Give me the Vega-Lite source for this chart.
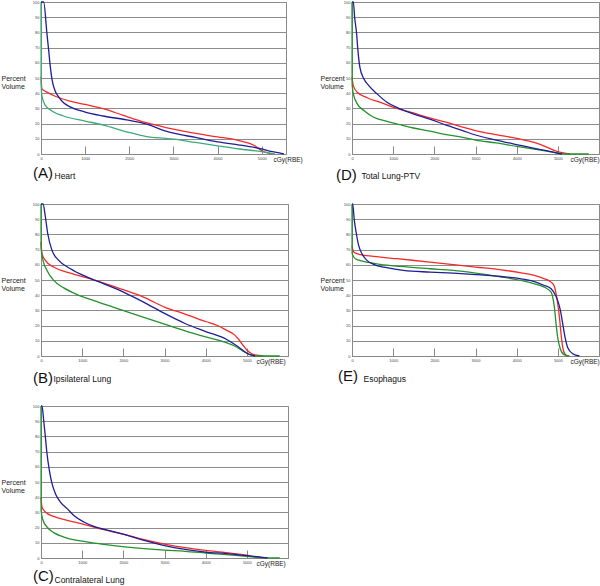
{
  "$schema": "https://vega.github.io/schema/vega-lite/v6.json",
  "padding": {"left": 0, "top": -2, "right": 0, "bottom": 0},
  "columns": 2,
  "spacing": {"row": 50, "column": 64},
  "bounds": "flush",
  "resolve": {"scale": {"color": "independent"}},
  "datasets": {
    "heart": [
      {"series": "red", "dose": 0, "volume": 51}, {"series": "red", "dose": 22, "volume": 42.8}, {"series": "red", "dose": 135, "volume": 40.7}, {"series": "red", "dose": 323, "volume": 38}, {"series": "red", "dose": 660, "volume": 34.8}, {"series": "red", "dose": 1000, "volume": 32.6}, {"series": "red", "dose": 1413, "volume": 29.8}, {"series": "red", "dose": 1865, "volume": 25.4}, {"series": "red", "dose": 2390, "volume": 20.6}, {"series": "red", "dose": 2830, "volume": 17.4}, {"series": "red", "dose": 3000, "volume": 16.3}, {"series": "red", "dose": 3500, "volume": 13.5}, {"series": "red", "dose": 4000, "volume": 11.3}, {"series": "red", "dose": 4500, "volume": 8.7}, {"series": "red", "dose": 4800, "volume": 6.1}, {"series": "red", "dose": 4900, "volume": 4.3}, {"series": "red", "dose": 5000, "volume": 2.2}, {"series": "red", "dose": 5100, "volume": 1.1}, {"series": "red", "dose": 5250, "volume": 0},
      {"series": "green", "dose": 0, "volume": 100}, {"series": "green", "dose": 3, "volume": 46}, {"series": "green", "dose": 22, "volume": 38}, {"series": "green", "dose": 98, "volume": 32}, {"series": "green", "dose": 248, "volume": 28.3}, {"series": "green", "dose": 511, "volume": 25}, {"series": "green", "dose": 1000, "volume": 21.7}, {"series": "green", "dose": 1413, "volume": 19}, {"series": "green", "dose": 1940, "volume": 14.6}, {"series": "green", "dose": 2390, "volume": 11.5}, {"series": "green", "dose": 2830, "volume": 10.3}, {"series": "green", "dose": 3000, "volume": 9.8}, {"series": "green", "dose": 3500, "volume": 7.6}, {"series": "green", "dose": 4000, "volume": 5.4}, {"series": "green", "dose": 4500, "volume": 3.3}, {"series": "green", "dose": 5000, "volume": 1.5}, {"series": "green", "dose": 5200, "volume": 0.4}, {"series": "green", "dose": 5300, "volume": 0},
      {"series": "blue", "dose": 0, "volume": 100}, {"series": "blue", "dose": 60, "volume": 100}, {"series": "blue", "dose": 135, "volume": 79}, {"series": "blue", "dose": 173, "volume": 68.5}, {"series": "blue", "dose": 210, "volume": 57.6}, {"series": "blue", "dose": 250, "volume": 49}, {"series": "blue", "dose": 323, "volume": 41.3}, {"series": "blue", "dose": 400, "volume": 37.6}, {"series": "blue", "dose": 511, "volume": 33.7}, {"series": "blue", "dose": 660, "volume": 31}, {"series": "blue", "dose": 1000, "volume": 27.6}, {"series": "blue", "dose": 1413, "volume": 25}, {"series": "blue", "dose": 1940, "volume": 22.4}, {"series": "blue", "dose": 2390, "volume": 19.6}, {"series": "blue", "dose": 2830, "volume": 15}, {"series": "blue", "dose": 3000, "volume": 13.7}, {"series": "blue", "dose": 3500, "volume": 10.9}, {"series": "blue", "dose": 4000, "volume": 8}, {"series": "blue", "dose": 4500, "volume": 5.9}, {"series": "blue", "dose": 4900, "volume": 3.9}, {"series": "blue", "dose": 5000, "volume": 3.3}, {"series": "blue", "dose": 5200, "volume": 1.7}, {"series": "blue", "dose": 5400, "volume": 0.7}, {"series": "blue", "dose": 5500, "volume": 0}
    ],
    "total": [
      {"series": "red", "dose": 0, "volume": 50.5}, {"series": "red", "dose": 32, "volume": 45}, {"series": "red", "dose": 128, "volume": 40.6}, {"series": "red", "dose": 368, "volume": 37}, {"series": "red", "dose": 688, "volume": 34}, {"series": "red", "dose": 1088, "volume": 30}, {"series": "red", "dose": 1488, "volume": 27}, {"series": "red", "dose": 1888, "volume": 23.7}, {"series": "red", "dose": 2288, "volume": 20.9}, {"series": "red", "dose": 2688, "volume": 17.6}, {"series": "red", "dose": 3000, "volume": 15.4}, {"series": "red", "dose": 3500, "volume": 12.7}, {"series": "red", "dose": 4000, "volume": 10.3}, {"series": "red", "dose": 4500, "volume": 7}, {"series": "red", "dose": 4800, "volume": 3.7}, {"series": "red", "dose": 5000, "volume": 1.5}, {"series": "red", "dose": 5200, "volume": 0.4}, {"series": "red", "dose": 5300, "volume": 0},
      {"series": "green", "dose": 0, "volume": 100}, {"series": "green", "dose": 3, "volume": 46}, {"series": "green", "dose": 32, "volume": 39.6}, {"series": "green", "dose": 128, "volume": 33}, {"series": "green", "dose": 288, "volume": 28.6}, {"series": "green", "dose": 528, "volume": 24.2}, {"series": "green", "dose": 848, "volume": 21.5}, {"series": "green", "dose": 1168, "volume": 19.3}, {"series": "green", "dose": 1488, "volume": 17.1}, {"series": "green", "dose": 1888, "volume": 15}, {"series": "green", "dose": 2288, "volume": 12.7}, {"series": "green", "dose": 2688, "volume": 11}, {"series": "green", "dose": 3000, "volume": 9.2}, {"series": "green", "dose": 3500, "volume": 7.3}, {"series": "green", "dose": 4000, "volume": 5}, {"series": "green", "dose": 4500, "volume": 2.9}, {"series": "green", "dose": 5000, "volume": 0.7}, {"series": "green", "dose": 5200, "volume": 0}, {"series": "green", "dose": 5750, "volume": 0},
      {"series": "blue", "dose": 0, "volume": 100}, {"series": "blue", "dose": 32, "volume": 100}, {"series": "blue", "dose": 64, "volume": 90}, {"series": "blue", "dose": 112, "volume": 79}, {"series": "blue", "dose": 144, "volume": 68}, {"series": "blue", "dose": 192, "volume": 57}, {"series": "blue", "dose": 288, "volume": 49.5}, {"series": "blue", "dose": 408, "volume": 45}, {"series": "blue", "dose": 608, "volume": 39.6}, {"series": "blue", "dose": 848, "volume": 34}, {"series": "blue", "dose": 1168, "volume": 29.7}, {"series": "blue", "dose": 1488, "volume": 26.4}, {"series": "blue", "dose": 1888, "volume": 23}, {"series": "blue", "dose": 2288, "volume": 19}, {"series": "blue", "dose": 2688, "volume": 15.4}, {"series": "blue", "dose": 3000, "volume": 12.5}, {"series": "blue", "dose": 3500, "volume": 9.2}, {"series": "blue", "dose": 4000, "volume": 6.2}, {"series": "blue", "dose": 4500, "volume": 3.3}, {"series": "blue", "dose": 4800, "volume": 1.8}, {"series": "blue", "dose": 5000, "volume": 0.4}, {"series": "blue", "dose": 5100, "volume": 0}
    ],
    "ipsi": [
      {"series": "red", "dose": 0, "volume": 75}, {"series": "red", "dose": 24, "volume": 67.3}, {"series": "red", "dose": 106, "volume": 62.9}, {"series": "red", "dose": 309, "volume": 58.5}, {"series": "red", "dose": 715, "volume": 54.5}, {"series": "red", "dose": 1122, "volume": 51.4}, {"series": "red", "dose": 1528, "volume": 47.9}, {"series": "red", "dose": 2016, "volume": 43.5}, {"series": "red", "dose": 2504, "volume": 38.6}, {"series": "red", "dose": 3000, "volume": 32.2}, {"series": "red", "dose": 3500, "volume": 27.6}, {"series": "red", "dose": 4000, "volume": 22.7}, {"series": "red", "dose": 4300, "volume": 19.9}, {"series": "red", "dose": 4500, "volume": 17}, {"series": "red", "dose": 4700, "volume": 13.9}, {"series": "red", "dose": 4800, "volume": 11}, {"series": "red", "dose": 4900, "volume": 7.3}, {"series": "red", "dose": 5000, "volume": 4}, {"series": "red", "dose": 5100, "volume": 1.8}, {"series": "red", "dose": 5200, "volume": 0.7}, {"series": "red", "dose": 5400, "volume": 0},
      {"series": "green", "dose": 0, "volume": 100}, {"series": "green", "dose": 3, "volume": 71}, {"series": "green", "dose": 49, "volume": 62.9}, {"series": "green", "dose": 146, "volume": 56.3}, {"series": "green", "dose": 309, "volume": 49.7}, {"series": "green", "dose": 553, "volume": 44.8}, {"series": "green", "dose": 878, "volume": 40.4}, {"series": "green", "dose": 1285, "volume": 36.4}, {"series": "green", "dose": 1772, "volume": 32}, {"series": "green", "dose": 2260, "volume": 27.6}, {"series": "green", "dose": 3000, "volume": 21}, {"series": "green", "dose": 3500, "volume": 16.6}, {"series": "green", "dose": 4000, "volume": 12.6}, {"series": "green", "dose": 4500, "volume": 8.8}, {"series": "green", "dose": 4700, "volume": 6.6}, {"series": "green", "dose": 4900, "volume": 3.3}, {"series": "green", "dose": 5000, "volume": 1.8}, {"series": "green", "dose": 5100, "volume": 0.7}, {"series": "green", "dose": 5200, "volume": 0}, {"series": "green", "dose": 5800, "volume": 0},
      {"series": "blue", "dose": 0, "volume": 100}, {"series": "blue", "dose": 49, "volume": 100}, {"series": "blue", "dose": 106, "volume": 91.6}, {"series": "blue", "dose": 163, "volume": 80.6}, {"series": "blue", "dose": 268, "volume": 69.5}, {"series": "blue", "dose": 431, "volume": 62.9}, {"series": "blue", "dose": 715, "volume": 57.4}, {"series": "blue", "dose": 1122, "volume": 51.9}, {"series": "blue", "dose": 1528, "volume": 47.5}, {"series": "blue", "dose": 2016, "volume": 41.9}, {"series": "blue", "dose": 2504, "volume": 35.3}, {"series": "blue", "dose": 3000, "volume": 28}, {"series": "blue", "dose": 3500, "volume": 21.4}, {"series": "blue", "dose": 4000, "volume": 16.1}, {"series": "blue", "dose": 4500, "volume": 11}, {"series": "blue", "dose": 4700, "volume": 7.7}, {"series": "blue", "dose": 4900, "volume": 3.8}, {"series": "blue", "dose": 5000, "volume": 1.8}, {"series": "blue", "dose": 5100, "volume": 0.7}, {"series": "blue", "dose": 5200, "volume": 0}
    ],
    "eso": [
      {"series": "red", "dose": 0, "volume": 72.8}, {"series": "red", "dose": 40, "volume": 68.4}, {"series": "red", "dose": 202, "volume": 66.7}, {"series": "red", "dose": 524, "volume": 65.6}, {"series": "red", "dose": 1089, "volume": 64}, {"series": "red", "dose": 1895, "volume": 61.8}, {"series": "red", "dose": 3008, "volume": 58.5}, {"series": "red", "dose": 3621, "volume": 56.7}, {"series": "red", "dose": 4107, "volume": 54.7}, {"series": "red", "dose": 4431, "volume": 53}, {"series": "red", "dose": 4674, "volume": 50.8}, {"series": "red", "dose": 4836, "volume": 48.6}, {"series": "red", "dose": 4917, "volume": 45.7}, {"series": "red", "dose": 4958, "volume": 40.8}, {"series": "red", "dose": 4998, "volume": 34.2}, {"series": "red", "dose": 5039, "volume": 25.4}, {"series": "red", "dose": 5079, "volume": 14.3}, {"series": "red", "dose": 5120, "volume": 5.5}, {"series": "red", "dose": 5177, "volume": 1.1}, {"series": "red", "dose": 5241, "volume": 0},
      {"series": "green", "dose": 0, "volume": 100}, {"series": "green", "dose": 3, "volume": 67.5}, {"series": "green", "dose": 81, "volume": 64}, {"series": "green", "dose": 282, "volume": 62.3}, {"series": "green", "dose": 685, "volume": 60.3}, {"series": "green", "dose": 1169, "volume": 58.9}, {"series": "green", "dose": 1895, "volume": 57.4}, {"series": "green", "dose": 2460, "volume": 56.3}, {"series": "green", "dose": 3008, "volume": 54.5}, {"series": "green", "dose": 3621, "volume": 52}, {"series": "green", "dose": 4107, "volume": 49.7}, {"series": "green", "dose": 4431, "volume": 47.5}, {"series": "green", "dose": 4674, "volume": 45.3}, {"series": "green", "dose": 4836, "volume": 42}, {"series": "green", "dose": 4877, "volume": 38.6}, {"series": "green", "dose": 4917, "volume": 32}, {"series": "green", "dose": 4958, "volume": 21}, {"series": "green", "dose": 4998, "volume": 12.1}, {"series": "green", "dose": 5063, "volume": 4.4}, {"series": "green", "dose": 5160, "volume": 0.7}, {"series": "green", "dose": 5282, "volume": 0},
      {"series": "blue", "dose": 0, "volume": 100}, {"series": "blue", "dose": 16, "volume": 100}, {"series": "blue", "dose": 56, "volume": 89.4}, {"series": "blue", "dose": 105, "volume": 80.6}, {"series": "blue", "dose": 161, "volume": 72.8}, {"series": "blue", "dose": 242, "volume": 67.3}, {"series": "blue", "dose": 363, "volume": 62.9}, {"series": "blue", "dose": 524, "volume": 60.3}, {"series": "blue", "dose": 847, "volume": 58.1}, {"series": "blue", "dose": 1250, "volume": 56.3}, {"series": "blue", "dose": 1895, "volume": 55.2}, {"series": "blue", "dose": 2460, "volume": 54.5}, {"series": "blue", "dose": 3008, "volume": 53.6}, {"series": "blue", "dose": 3621, "volume": 52.3}, {"series": "blue", "dose": 4107, "volume": 50.8}, {"series": "blue", "dose": 4431, "volume": 49}, {"series": "blue", "dose": 4674, "volume": 46.4}, {"series": "blue", "dose": 4836, "volume": 44.2}, {"series": "blue", "dose": 4917, "volume": 41.3}, {"series": "blue", "dose": 4998, "volume": 36.4}, {"series": "blue", "dose": 5063, "volume": 29.8}, {"series": "blue", "dose": 5120, "volume": 21}, {"series": "blue", "dose": 5177, "volume": 12.1}, {"series": "blue", "dose": 5241, "volume": 5.5}, {"series": "blue", "dose": 5363, "volume": 1.5}, {"series": "blue", "dose": 5525, "volume": 0}
    ],
    "contra": [
      {"series": "red", "dose": 0, "volume": 40}, {"series": "red", "dose": 24, "volume": 33.6}, {"series": "red", "dose": 106, "volume": 30.3}, {"series": "red", "dose": 309, "volume": 27.4}, {"series": "red", "dose": 634, "volume": 24.8}, {"series": "red", "dose": 1041, "volume": 22.1}, {"series": "red", "dose": 1528, "volume": 18.6}, {"series": "red", "dose": 2016, "volume": 15.6}, {"series": "red", "dose": 2504, "volume": 12.1}, {"series": "red", "dose": 3000, "volume": 9.2}, {"series": "red", "dose": 3500, "volume": 6.8}, {"series": "red", "dose": 4000, "volume": 5}, {"series": "red", "dose": 4500, "volume": 3.5}, {"series": "red", "dose": 5000, "volume": 1.8}, {"series": "red", "dose": 5200, "volume": 0.7}, {"series": "red", "dose": 5400, "volume": 0},
      {"series": "green", "dose": 0, "volume": 100}, {"series": "green", "dose": 3, "volume": 31}, {"series": "green", "dose": 49, "volume": 24.8}, {"series": "green", "dose": 146, "volume": 20.4}, {"series": "green", "dose": 309, "volume": 16.7}, {"series": "green", "dose": 553, "volume": 13.8}, {"series": "green", "dose": 959, "volume": 11.2}, {"series": "green", "dose": 1528, "volume": 9}, {"series": "green", "dose": 2098, "volume": 7.2}, {"series": "green", "dose": 3000, "volume": 5.2}, {"series": "green", "dose": 3500, "volume": 4.4}, {"series": "green", "dose": 4000, "volume": 3.3}, {"series": "green", "dose": 4500, "volume": 2.2}, {"series": "green", "dose": 5000, "volume": 1.1}, {"series": "green", "dose": 5400, "volume": 0.2}, {"series": "green", "dose": 5800, "volume": 0},
      {"series": "blue", "dose": 0, "volume": 100}, {"series": "blue", "dose": 24, "volume": 100}, {"series": "blue", "dose": 65, "volume": 90.6}, {"series": "blue", "dose": 106, "volume": 79.6}, {"series": "blue", "dose": 146, "volume": 68.6}, {"series": "blue", "dose": 203, "volume": 57.7}, {"series": "blue", "dose": 268, "volume": 48.9}, {"series": "blue", "dose": 350, "volume": 42.3}, {"series": "blue", "dose": 472, "volume": 36.8}, {"series": "blue", "dose": 634, "volume": 32.5}, {"series": "blue", "dose": 797, "volume": 28}, {"series": "blue", "dose": 1041, "volume": 23.7}, {"series": "blue", "dose": 1285, "volume": 20.8}, {"series": "blue", "dose": 1691, "volume": 17.8}, {"series": "blue", "dose": 2098, "volume": 14.9}, {"series": "blue", "dose": 2504, "volume": 11.6}, {"series": "blue", "dose": 3000, "volume": 8.2}, {"series": "blue", "dose": 3500, "volume": 5.7}, {"series": "blue", "dose": 4000, "volume": 3.9}, {"series": "blue", "dose": 4500, "volume": 2.9}, {"series": "blue", "dose": 5000, "volume": 1.5}, {"series": "blue", "dose": 5300, "volume": 0.7}, {"series": "blue", "dose": 5500, "volume": 0}
    ]
  },
  "concat": [
    {
      "width": 245, "height": 152,
      "data": {"name": "heart"},
      "title": {"text": "(A)", "dx": -8, "offset": -13.5},
      "mark": {"type": "line", "interpolate": "monotone", "strokeWidth": 1.3},
      "encoding": {
        "x": {"field": "dose", "type": "quantitative", "title": "Heart", "scale": {"domain": [0, 5550], "nice": false}, "axis": {"values": [0, 1000, 2000, 3000, 4000, 5000, 5256], "titleX": 13, "titleY": 24}},
        "y": {"field": "volume", "type": "quantitative", "title": ["Percent", "Volume"], "scale": {"domain": [0, 100], "nice": false}, "axis": {"titleX": -40, "values": [0, 10, 20, 30, 40, 50, 60, 70, 80, 90, 100]}},
        "color": {"field": "series", "type": "nominal", "scale": {"domain": ["red", "green", "blue"], "range": ["#f42a2a", "#3caa78", "#1e1e96"]}, "legend": null}
      }
    },
    {
      "width": 247, "height": 152,
      "data": {"name": "total"},
      "title": {"text": "(D)", "dx": -16, "offset": -12},
      "mark": {"type": "line", "interpolate": "monotone", "strokeWidth": 1.3},
      "encoding": {
        "x": {"field": "dose", "type": "quantitative", "title": "Total Lung-PTV", "scale": {"domain": [0, 6000], "nice": false}, "axis": {"values": [0, 1000, 2000, 3000, 4000, 5000, 5296], "titleX": 9, "titleY": 24}},
        "y": {"field": "volume", "type": "quantitative", "title": ["Percent", "Volume"], "scale": {"domain": [0, 100], "nice": false}, "axis": {"titleX": -32, "values": [0, 10, 20, 30, 40, 50, 60, 70, 80, 90, 100]}},
        "color": {"field": "series", "type": "nominal", "scale": {"domain": ["red", "green", "blue"], "range": ["#f42a2a", "#23912d", "#1e1e96"]}, "legend": null}
      }
    },
    {
      "width": 247, "height": 152,
      "data": {"name": "ipsi"},
      "title": {"text": "(B)", "dx": -8, "offset": -12},
      "mark": {"type": "line", "interpolate": "monotone", "strokeWidth": 1.3},
      "encoding": {
        "x": {"field": "dose", "type": "quantitative", "title": "Ipsilateral Lung", "scale": {"domain": [0, 6000], "nice": false}, "axis": {"values": [0, 1000, 2000, 3000, 4000, 5000, 5223], "titleX": 12, "titleY": 25.5}},
        "y": {"field": "volume", "type": "quantitative", "title": ["Percent", "Volume"], "scale": {"domain": [0, 100], "nice": false}, "axis": {"titleX": -40, "values": [0, 10, 20, 30, 40, 50, 60, 70, 80, 90, 100]}},
        "color": {"field": "series", "type": "nominal", "scale": {"domain": ["red", "green", "blue"], "range": ["#f42a2a", "#23912d", "#1e1e96"]}, "legend": null}
      }
    },
    {
      "width": 247, "height": 152,
      "data": {"name": "eso"},
      "title": {"text": "(E)", "dx": -14, "offset": -13.5},
      "mark": {"type": "line", "interpolate": "monotone", "strokeWidth": 1.3},
      "encoding": {
        "x": {"field": "dose", "type": "quantitative", "title": "Esophagus", "scale": {"domain": [0, 6000], "nice": false}, "axis": {"values": [0, 1000, 2000, 3000, 4000, 5000, 5296], "titleX": 11, "titleY": 25}},
        "y": {"field": "volume", "type": "quantitative", "title": ["Percent", "Volume"], "scale": {"domain": [0, 100], "nice": false}, "axis": {"titleX": -32, "values": [0, 10, 20, 30, 40, 50, 60, 70, 80, 90, 100]}},
        "color": {"field": "series", "type": "nominal", "scale": {"domain": ["red", "green", "blue"], "range": ["#f42a2a", "#23912d", "#1e1e96"]}, "legend": null}
      }
    },
    {
      "width": 247, "height": 152,
      "data": {"name": "contra"},
      "title": {"text": "(C)", "dx": -8, "offset": -14.5},
      "mark": {"type": "line", "interpolate": "monotone", "strokeWidth": 1.3},
      "encoding": {
        "x": {"field": "dose", "type": "quantitative", "title": "Contralateral Lung", "scale": {"domain": [0, 6000], "nice": false}, "axis": {"values": [0, 1000, 2000, 3000, 4000, 5000, 5223], "titleX": 13, "titleY": 24}},
        "y": {"field": "volume", "type": "quantitative", "title": ["Percent", "Volume"], "scale": {"domain": [0, 100], "nice": false}, "axis": {"titleX": -40, "values": [0, 10, 20, 30, 40, 50, 60, 70, 80, 90, 100]}},
        "color": {"field": "series", "type": "nominal", "scale": {"domain": ["red", "green", "blue"], "range": ["#f42a2a", "#23912d", "#1e1e96"]}, "legend": null}
      }
    }
  ],
  "config": {
    "font": "Liberation Sans",
    "view": {"stroke": "#8a8a8a", "strokeWidth": 1},
    "title": {"orient": "bottom", "anchor": "start", "frame": "group", "fontSize": 15, "fontWeight": "normal", "color": "#111"},
    "axisX": {
      "grid": false, "tickSize": -8, "tickColor": "#888", "domainColor": "#888", "format": "d",
      "labelExpr": "datum.value > 5100 ? 'cGy(RBE)' : datum.label",
      "labelFontSize": {"condition": {"test": "datum.value > 5100", "value": 6.5}, "value": 4},
      "labelColor": {"condition": {"test": "datum.value > 5100", "value": "#222"}, "value": "#444"},
      "labelAlign": {"condition": {"test": "datum.value > 5100", "value": "left"}, "value": "center"},
      "tickOpacity": {"condition": {"test": "datum.value > 5100", "value": 0}, "value": 1},
      "labelFlush": false, "labelOverlap": false, "labelPadding": 10,
      "titleFontSize": 8.5, "titleFontWeight": "normal", "titleColor": "#111", "titleAlign": "left", "titleBaseline": "alphabetic"
    },
    "axisY": {"grid": true, "gridColor": "#8c8c8c", "gridWidth": 1, "ticks": false, "domainColor": "#888", "labelFontSize": 4, "labelColor": "#444", "labelPadding": 2, "titleAngle": 0, "titleFontSize": 7, "titleFontWeight": "normal", "titleColor": "#222", "titleY": 78, "titleAlign": "left", "titleBaseline": "alphabetic", "titleLineHeight": 8}
  }
}
